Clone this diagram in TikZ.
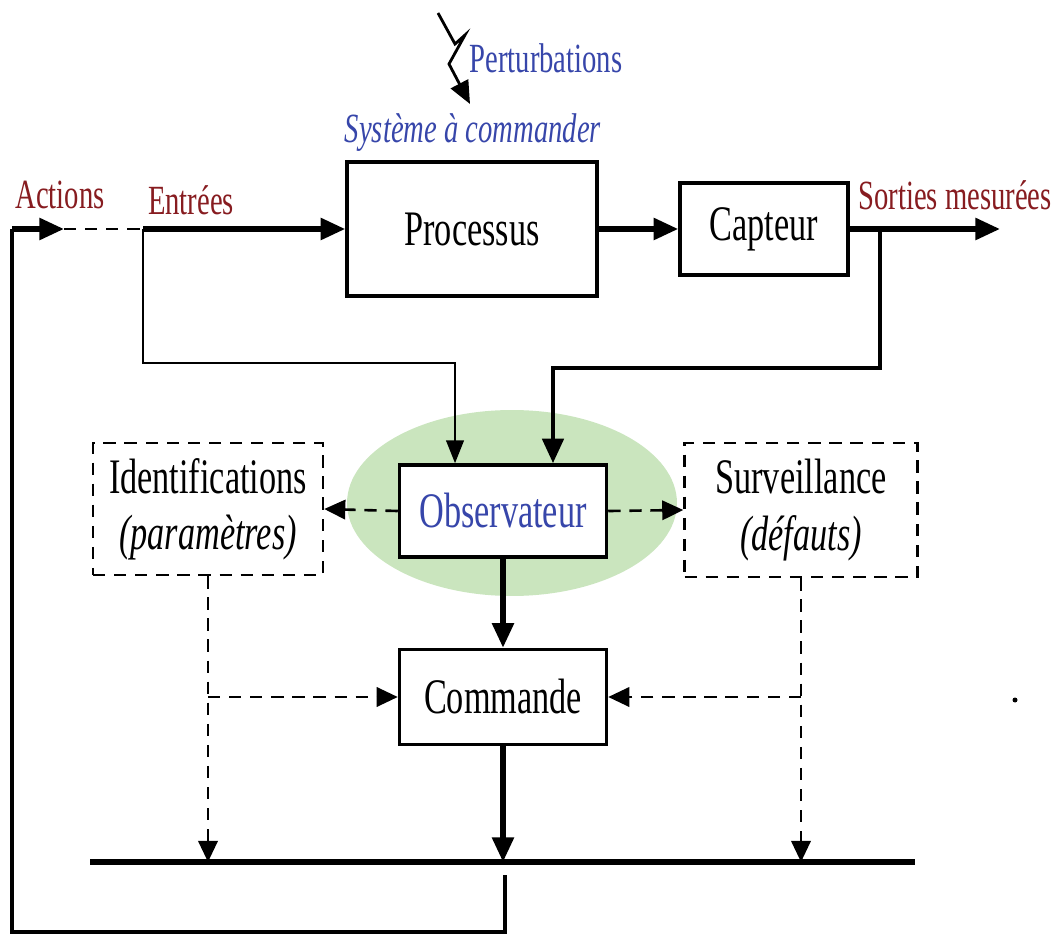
\documentclass[tikz,border=0pt]{standalone}
\usepackage{fontspec}
\setmainfont{Liberation Serif}
\usetikzlibrary{arrows.meta}

\definecolor{rougesombre}{RGB}{135,28,32}
\definecolor{bleuobs}{RGB}{55,70,170}
\definecolor{vertobs}{RGB}{202,229,190}

% texte un peu etire en hauteur
\newcommand{\tall}[1]{\scalebox{1}[1.45]{#1}}

\tikzset{
  bloc/.style={draw, line width=2pt, fill=white, inner sep=0pt,
    font=\fontsize{19.5}{32}\selectfont, align=center},
  blocpt/.style={bloc, line width=1.4pt, dash pattern=on 7pt off 5pt},
  etiq/.style={font=\fontsize{16.3}{18}\selectfont, text=rougesombre, inner sep=0pt},
  fort/.style={line width=3pt, -{Triangle[length=14pt,width=12pt]}},
  fin/.style={line width=1.3pt, -{Triangle[length=13pt,width=10pt]}},
  tiret/.style={line width=1.5pt, dash pattern=on 7pt off 5pt, -{Triangle[length=12pt,width=11pt]}},
}

\begin{document}
\begin{tikzpicture}[x=0.02cm, y=-0.02cm]
    \useasboundingbox (0,0) rectangle (1058,935);

    % Fond de l'observateur
    \fill[vertobs] (512,503) ellipse [x radius=3.3cm, y radius=1.86cm];

    % Blocs
    \node[bloc, minimum width=5cm, minimum height=2.68cm] (proc) at (472,229) {\tall{Processus}};
    \node[bloc, minimum width=3.36cm, minimum height=1.84cm] (capt) at (764,229) {\tall{Capteur}};
    \node[bloc, minimum width=4.14cm, minimum height=1.84cm, text=bleuobs] (obs) at (503,511) {\tall{Observateur}};
    \node[bloc, minimum width=4.14cm, minimum height=1.9cm] (cmd) at (503,697) {\tall{Commande}};
    \node[blocpt, minimum width=4.6cm, minimum height=2.64cm] (ident) at (208,509)
        {\tall{Identifications}\\ \tall{\textit{(paramètres)}}};
    \node[blocpt, minimum width=4.66cm, minimum height=2.68cm] (surv) at (801,510)
        {\tall{Surveillance}\\ \tall{\textit{(défauts)}}};

    % Etiquettes
    \node[etiq] (lact) at (60,195) {\tall{Actions}};
    \node[etiq] (lent) at (191,200) {\tall{Entrées}};
    \node[etiq] (lsort) at (955,195) {\tall{Sorties mesurées}};
    \node[etiq, text=bleuobs] (lpert) at (546,58) {\tall{Perturbations}};
    \node[etiq, text=bleuobs] (lsys) at (473,133) {\tall{\textit{Système à commander}}};

    % Points de passage
    \coordinate (act) at (12,229);
    \coordinate (actpt) at (64,229);
    \coordinate (entree) at (143,229);
    \coordinate (bif) at (880,229);
    \coordinate (sortie) at (1000,229);
    \coordinate (barreg) at (90,862);
    \coordinate (barred) at (915,862);
    \coordinate (obsg) at ([xshift=-0.96cm]obs.north);
    \coordinate (obsd) at ([xshift=1cm]obs.north);

    % Perturbations
    \draw[line width=1.6pt, -{Triangle[length=13pt,width=11pt]}]
        (438,13) -- (455,44) -- (465,35) -- (449,64) -- (470,104);

    % Chaine directe
    \draw[fort] (entree) -- (proc.west);
    \draw[fort] (proc.east) -- (capt.west);
    \draw[fort] (capt.east) -- (sortie);
    \draw[fort] (act) -- (actpt);
    \draw[line width=1.5pt, dash pattern=on 7pt off 5pt] (actpt) -- (entree);

    % Vers l'observateur
    \draw[fin] (entree) -- (143,363) -| (obsg);
    \draw[fort, line width=2.6pt] (bif) -- (880,368) -| (obsd);

    % Sorties de l'observateur
    \draw[tiret] (obs.west) -- (ident.east);
    \draw[tiret] (obs.east) -- (surv.west);
    \draw[fort] (obs.south) -- (cmd.north);

    % Identification et surveillance
    \draw[tiret] (ident.south) -- (ident.south |- barreg);
    \draw[tiret] (ident.south |- cmd.west) -- (cmd.west);
    \draw[tiret] (surv.south) -- (surv.south |- barreg);
    \draw[tiret] (surv.south |- cmd.east) -- (cmd.east);

    % Commande et retour
    \draw[fort] (cmd.south) -- (cmd.south |- barreg);
    \draw[line width=3.2pt] (barreg) -- (barred);
    \draw[line width=2pt] (505,875) -- (505,932) -- (12,932) -- (act);

    \fill (1015,700) circle (0.05cm);
\end{tikzpicture}
\end{document}
